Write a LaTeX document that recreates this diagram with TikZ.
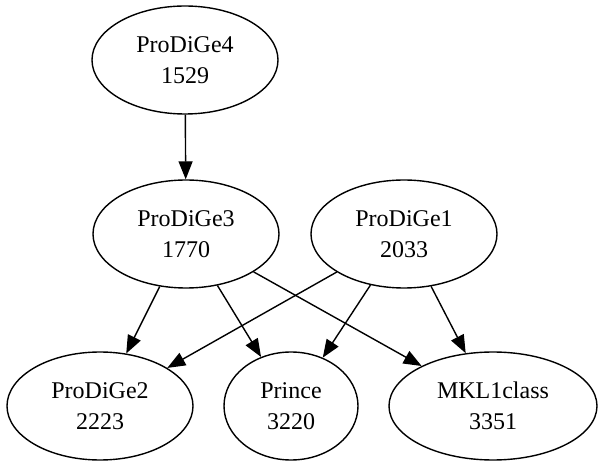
\documentclass[tikz,border=0pt]{standalone}
\usepackage{fontspec}
\setmainfont{Liberation Serif}
\usetikzlibrary{shapes.geometric,arrows.meta}
\begin{document}
\begin{tikzpicture}[x=1pt,y=-1pt,
  nd/.style={draw,ellipse,line width=1.4pt,inner sep=0pt,minimum height=108pt,align=center,
    font=\fontsize{24}{31}\selectfont},
  edge/.style={line width=1.4pt,-{Triangle[length=18pt,width=14pt]}}]
\useasboundingbox (0,0) rectangle (600,470);
\node[nd,minimum width=186pt] (p4) at (185,60) {ProDiGe4\\1529};
\node[nd,minimum width=186pt] (p3) at (186,234) {ProDiGe3\\1770};
\node[nd,minimum width=186pt] (p1) at (404,234) {ProDiGe1\\2033};
\node[nd,minimum width=186pt] (p2) at (100,406) {ProDiGe2\\2223};
\node[nd,minimum width=134pt] (pr) at (291,406) {Prince\\3220};
\node[nd,minimum width=208pt] (mk) at (493,406) {MKL1class\\3351};
\draw[edge] (p4) -- (p3);
\draw[edge] (p3) -- (p2);
\draw[edge] (p3) -- (pr);
\draw[edge] (p3) -- (mk);
\draw[edge] (p1) -- (p2);
\draw[edge] (p1) -- (pr);
\draw[edge] (p1) -- (mk);
\end{tikzpicture}
\end{document}
